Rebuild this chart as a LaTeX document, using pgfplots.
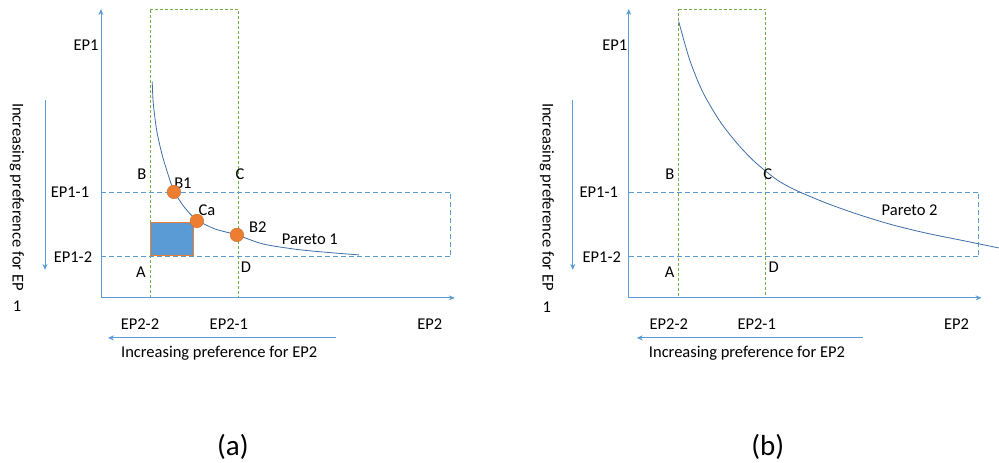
\documentclass[border=0pt]{standalone}
\usepackage{pgfplots}
\pgfplotsset{compat=1.18}
\usepackage{fontspec}
\setmainfont{Carlito}
\usetikzlibrary{arrows.meta}
\definecolor{axblue}{HTML}{5B9BD5}
\definecolor{curveblue}{HTML}{3E6DA8}
\definecolor{grn}{HTML}{70AD47}
\definecolor{org}{HTML}{ED7D31}
\tikzset{
  lbl/.style={font=\fontsize{16.5}{19}\selectfont, inner sep=0pt},
  ar/.style={axblue, line width=0.9pt, -{Stealth[length=6pt,width=5pt]}},
  gdash/.style={grn, line width=0.8pt, dash pattern=on 3pt off 2pt},
  bdash/.style={axblue, line width=0.8pt, dash pattern=on 5pt off 3pt}}
\begin{document}
\begin{tikzpicture}
\begin{axis}[scale only axis, width=999pt, height=463pt,
  xmin=0, xmax=999, ymin=0, ymax=463, y dir=reverse,
  hide axis, clip=false]
\path (axis cs:0,0) rectangle (axis cs:999,463);
% ---------- panel (a) ----------
\addplot[gdash] coordinates {(150,9) (238,9) (238,298) (150,298) (150,9)};
\addplot[bdash] coordinates {(101,192) (451,192) (451,257) (101,257) (101,192)};
\addplot[fill=axblue, draw=org, line width=1pt] coordinates {(151,223) (194,223) (194,256) (151,256) (151,223)};
\addplot[curveblue, line width=0.8pt, smooth] coordinates {(152.3,81.7) (153.3,103) (156.7,130) (161.7,153) (166.7,170) (174,191) (185,208) (197,220) (215,229) (237,235) (263,244) (297,249.5) (330,252.7) (359,255)};
\addplot[only marks, mark=*, mark size=6.8pt, mark options={fill=org, draw=org!85!black, line width=0.4pt}] coordinates {(174,192) (197,221) (237,235)};
\addplot[ar] coordinates {(101,298) (101,9)};
\addplot[ar] coordinates {(101,298) (455,298)};
\addplot[ar] coordinates {(45,100) (45,270)};
\addplot[ar] coordinates {(336,338) (108,338)};
\node[lbl] at (axis cs:86,45) {EP1};
\node[lbl] at (axis cs:70,192) {EP1-1};
\node[lbl] at (axis cs:73,257) {EP1-2};
\node[lbl] at (axis cs:142,174) {B};
\node[lbl] at (axis cs:240,174) {C};
\node[lbl] at (axis cs:141,272) {A};
\node[lbl] at (axis cs:246,267) {D};
\node[lbl] at (axis cs:183,183) {B1};
\node[lbl] at (axis cs:207,210) {Ca};
\node[lbl] at (axis cs:258,227) {B2};
\node[lbl] at (axis cs:310,239) {Pareto 1};
\node[lbl, rotate=-90] at (axis cs:17,197) {Increasing preference for EP};
\node[lbl] at (axis cs:17,306) {1};
\node[lbl] at (axis cs:140,324) {EP2-2};
\node[lbl] at (axis cs:229,324) {EP2-1};
\node[lbl] at (axis cs:430,324) {EP2};
\node[lbl, anchor=west] at (axis cs:121,353) {Increasing preference for EP2};
\node[font=\fontsize{29}{34}\selectfont, inner sep=0pt] at (axis cs:233,447) {(a)};
% ---------- panel (b) ----------
\addplot[gdash] coordinates {(679,9) (766,9) (766,298) (679,298) (679,9)};
\addplot[bdash] coordinates {(629,192) (979,192) (979,257) (629,257) (629,192)};
\addplot[curveblue, line width=0.8pt, smooth] coordinates {(679,21.5) (690,60) (703,92) (720,121) (737,143) (753,160) (767,172) (780,181.7) (797,190.7) (827,203.3) (860,215) (893,225) (927,233.3) (960,240) (999,248)};
\addplot[ar] coordinates {(629,298) (629,9)};
\addplot[ar] coordinates {(629,298) (982,298)};
\addplot[ar] coordinates {(573,100) (573,270)};
\addplot[ar] coordinates {(863,338) (637,338)};
\node[lbl] at (axis cs:615,45) {EP1};
\node[lbl] at (axis cs:599,192) {EP1-1};
\node[lbl] at (axis cs:602,257) {EP1-2};
\node[lbl] at (axis cs:670,174) {B};
\node[lbl] at (axis cs:768,174) {C};
\node[lbl] at (axis cs:670,272) {A};
\node[lbl] at (axis cs:774,267) {D};
\node[lbl] at (axis cs:910,210) {Pareto 2};
\node[lbl, rotate=-90] at (axis cs:547,197) {Increasing preference for EP};
\node[lbl] at (axis cs:547,307) {1};
\node[lbl] at (axis cs:669,324) {EP2-2};
\node[lbl] at (axis cs:757,324) {EP2-1};
\node[lbl] at (axis cs:957,324) {EP2};
\node[lbl, anchor=west] at (axis cs:649,353) {Increasing preference for EP2};
\node[font=\fontsize{29}{34}\selectfont, inner sep=0pt] at (axis cs:768,447) {(b)};
\end{axis}
\end{tikzpicture}
\end{document}
